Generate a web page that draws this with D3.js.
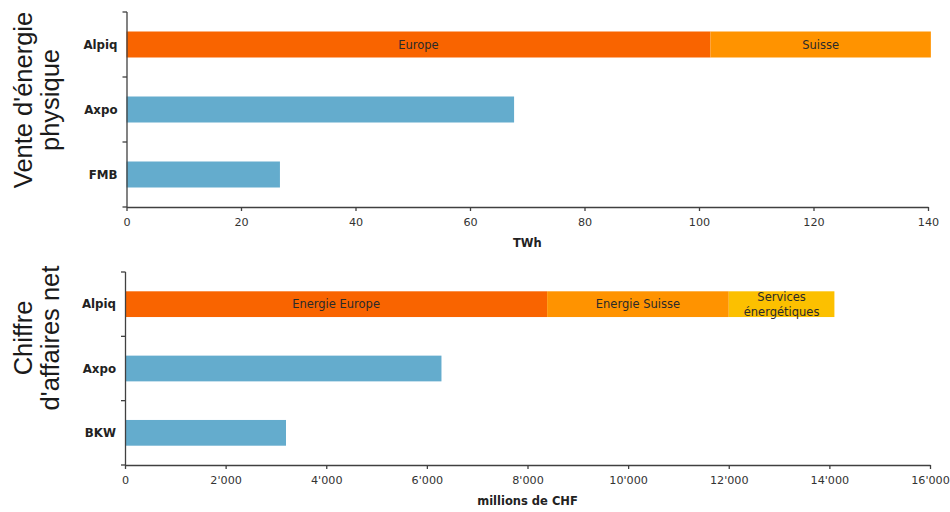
<!DOCTYPE html>
<html>
<head>
<meta charset="utf-8">
<script src="https://cdn.jsdelivr.net/npm/d3@7"></script>
<style>
  html, body { margin: 0; padding: 0; background: #fff; }
  svg { display: block; }
</style>
</head>
<body>
<svg id="chart" width="950" height="512"></svg>
<script>
// ---- Data ----
const energyCategories = ["Alpiq", "Axpo", "FMB"];
const energySegments = ["Europe", "Suisse"];
const energyAlpiq = [102, 38.5];
const energyOthers = [67.7, 26.8];           // Axpo, FMB
const energyTicks = [0, 20, 40, 60, 80, 100, 120, 140];
const energyUnit = "TWh";
const energyTitle = ["Vente d'énergie", "physique"];

const revenueCategories = ["Alpiq", "Axpo", "BKW"];
const revenueSegments = ["Energie Europe", "Energie Suisse", "Services\nénergétiques"];
const revenueAlpiq = [8390, 3610, 2100];
const revenueOthers = [6290, 3200];          // Axpo, BKW
const revenueTicks = [0, 2000, 4000, 6000, 8000, 10000, 12000, 14000, 16000];
const revenueUnit = "millions de CHF";
const revenueTitle = ["Chiffre", "d'affaires net"];

const segmentColors = ["#F96400", "#FF9300", "#FCC000"];
const otherColor = "#64ACCD";

const svg = d3.select("#chart");
const FONT = "'DejaVu Sans', Verdana, sans-serif";

function panel(opts) {
  const {cats, segNames, alpiqVals, others, ticks, unit, title, x0, x1, y0, y1, domainMax, fmt, titleCenter} = opts;
  const g = svg.append("g");
  const x = d3.scaleLinear().domain([0, domainMax]).range([x0, x1]);
  const y = d3.scaleBand().domain(cats).range([y0, y1]).paddingInner(0.6).paddingOuter(0.3);

  // stacked Alpiq segments
  let cum = 0;
  const segs = alpiqVals.map((v, i) => { const s = {name: segNames[i], start: cum, end: cum + v, color: segmentColors[i]}; cum += v; return s; });
  g.selectAll("rect.seg").data(segs).join("rect")
    .attr("x", d => x(d.start)).attr("width", d => x(d.end) - x(d.start))
    .attr("y", y(cats[0])).attr("height", y.bandwidth())
    .attr("fill", d => d.color);
  segs.forEach(s => {
    const lines = s.name.split("\n");
    const cx = (x(s.start) + x(s.end)) / 2;
    const cy = y(cats[0]) + y.bandwidth() / 2;
    const lh = 15;
    lines.forEach((ln, i) => {
      g.append("text").attr("x", cx).attr("y", cy + (i - (lines.length - 1) / 2) * lh)
        .attr("text-anchor", "middle").attr("dominant-baseline", "central")
        .attr("font-family", FONT).attr("font-size", 11.5).attr("fill", "#2a2a2a").text(ln);
    });
  });

  // other bars
  const otherData = cats.slice(1).map((c, i) => ({c, v: others[i]}));
  g.selectAll("rect.other").data(otherData).join("rect")
    .attr("x", x(0)).attr("width", d => x(d.v) - x(0))
    .attr("y", d => y(d.c)).attr("height", y.bandwidth())
    .attr("fill", otherColor);

  // y axis line and band-boundary ticks
  const axisColor = "#404040";
  g.append("line").attr("x1", x0 + 0.5).attr("x2", x0 + 0.5).attr("y1", y0).attr("y2", y1)
    .attr("stroke", axisColor).attr("stroke-width", 1.3);
  const step = y.step();
  const bounds = cats.map(c => y(c) - step * y.paddingInner() / 2).concat([y1]);
  bounds.forEach(b => {
    g.append("line").attr("x1", x0 - 4).attr("x2", x0 + 0.5).attr("y1", b).attr("y2", b)
      .attr("stroke", axisColor).attr("stroke-width", 1.3);
  });
  // category labels
  cats.forEach(c => {
    g.append("text").attr("x", x0 - 9).attr("y", y(c) + y.bandwidth() / 2)
      .attr("text-anchor", "end").attr("dominant-baseline", "central")
      .attr("font-family", FONT).attr("font-weight", "bold").attr("font-size", 11.8)
      .attr("fill", "#222").text(c);
  });

  // x axis
  const xa = d3.axisBottom(x).tickValues(ticks).tickSize(4).tickSizeOuter(0).tickFormat(fmt);
  const ax = g.append("g").attr("transform", `translate(0,${y1})`).call(xa);
  ax.select(".domain").attr("stroke", axisColor).attr("stroke-width", 1.3);
  ax.selectAll(".tick line").attr("stroke", axisColor).attr("stroke-width", 1.3);
  ax.selectAll(".tick text").attr("font-family", FONT).attr("font-size", 11.2).attr("fill", "#333").attr("dy", "1.05em");

  g.append("text").attr("x", (x0 + x1) / 2).attr("y", y1 + 40)
    .attr("text-anchor", "middle").attr("font-family", FONT).attr("font-weight", "bold")
    .attr("font-size", 11.5).attr("fill", "#222").text(unit);

  // rotated panel title
  const tg = g.append("g").attr("transform", `translate(36,${titleCenter}) rotate(-90)`);
  title.forEach((t, i) => {
    tg.append("text").attr("x", 0).attr("y", (i - 0.5) * 27)
      .attr("text-anchor", "middle").attr("dominant-baseline", "central")
      .attr("font-family", "'Liberation Sans', Arial, sans-serif").attr("font-size", 25.5)
      .attr("fill", "#1a1a1a").text(t);
  });
}

const thousands = d3.formatLocale({decimal: ".", thousands: "'", grouping: [3], currency: ["", ""]}).format(",");

panel({cats: energyCategories, segNames: energySegments, alpiqVals: energyAlpiq, others: energyOthers,
  ticks: energyTicks, unit: energyUnit, title: energyTitle,
  x0: 126.5, x1: 928, y0: 12, y1: 207, domainMax: 140, fmt: d3.format("d"), titleCenter: 100});

panel({cats: revenueCategories, segNames: revenueSegments, alpiqVals: revenueAlpiq, others: revenueOthers,
  ticks: revenueTicks, unit: revenueUnit, title: revenueTitle,
  x0: 125, x1: 930, y0: 272, y1: 465, domainMax: 16000, fmt: thousands, titleCenter: 338});
</script>
</body>
</html>
